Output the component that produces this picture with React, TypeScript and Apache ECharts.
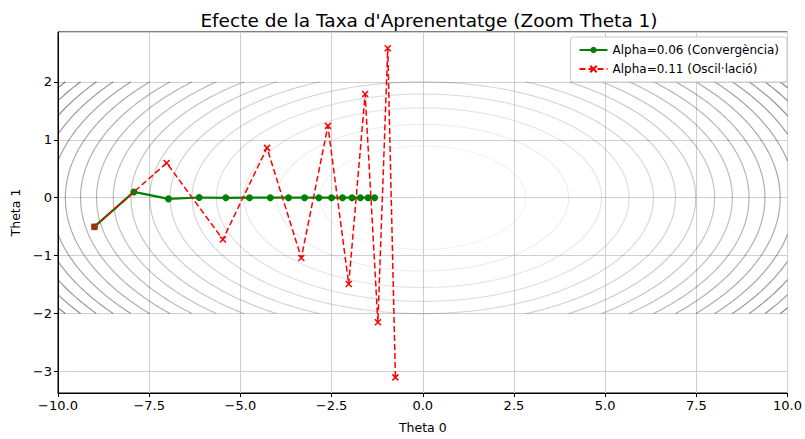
import React, { useEffect, useRef } from "react";
import * as echarts from "echarts";

const title = "Efecte de la Taxa d'Aprenentatge (Zoom Theta 1)";
const contourLevels = [8, 16, 24, 32, 40, 48, 56, 64, 72, 80, 88, 96, 104, 112, 120, 128, 136];
const greenName = "Alpha=0.06 (Convergència)";
const redName = "Alpha=0.11 (Oscil·lació)";
const greenTheta0 = [-9, -7.92, -6.97, -6.13, -5.4, -4.75, -4.18, -3.68, -3.24, -2.85, -2.5, -2.2, -1.94, -1.71, -1.5, -1.32];
const greenTheta1 = [-0.5, 0.1, -0.02, 0.004, -0.001, 0, 0, 0, 0, 0, 0, 0, 0, 0, 0, 0];
const redTheta0 = [-9, -7.02, -5.48, -4.27, -3.33, -2.6, -2.03, -1.58, -1.23, -0.96, -0.75];
const redTheta1 = [-0.5, 0.6, -0.72, 0.86, -1.04, 1.24, -1.49, 1.79, -2.15, 2.58, -3.1];

const FONT = "'DejaVu Sans', sans-serif";
const minus = (s: string) => s.replace("-", "\u2212");

function ellipsePoint(L: number, t: number): [number, number] {
  return [Math.sqrt(L) * Math.cos(t), Math.sqrt(L / 10) * Math.sin(t)];
}
function inside(p: [number, number]) {
  return Math.abs(p[0]) <= 10 && Math.abs(p[1]) <= 2;
}
function contourSegments(L: number): [number, number][][] {
  const N = 900;
  const t0 = Math.PI / 2;
  const segs: [number, number][][] = [];
  let cur: [number, number][] = [];
  let prevT = t0;
  let prevIn = inside(ellipsePoint(L, t0));
  if (prevIn) cur.push(ellipsePoint(L, t0));
  for (let i = 1; i <= N; i++) {
    const t = t0 + (2 * Math.PI * i) / N;
    const p = ellipsePoint(L, t);
    const pin = inside(p);
    if (pin !== prevIn) {
      let a = prevT, b = t;
      for (let k = 0; k < 30; k++) {
        const m = (a + b) / 2;
        if (inside(ellipsePoint(L, m)) === prevIn) a = m; else b = m;
      }
      const bp = ellipsePoint(L, (a + b) / 2);
      if (prevIn) {
        cur.push(bp);
        segs.push(cur);
        cur = [];
      } else {
        cur = [bp];
      }
    }
    if (pin) cur.push(p);
    prevIn = pin;
    prevT = t;
  }
  if (cur.length > 1) segs.push(cur);
  return segs;
}

export default function App() {
  const ref = useRef<HTMLDivElement>(null);
  useEffect(() => {
    if (!ref.current) return;
    const chart = echarts.init(ref.current, null, { renderer: "svg" });
    const lmin = contourLevels[0];
    const lmax = contourLevels[contourLevels.length - 1];
    const contourSeries: any[] = [];
    contourLevels.forEach((L) => {
      const a = 0.05 + 0.42 * (L - lmin) / (lmax - lmin);
      contourSegments(L).forEach((seg) => {
        contourSeries.push({
          type: "line",
          data: seg,
          showSymbol: false,
          symbol: "none",
          silent: true,
          z: 1,
          lineStyle: { color: `rgba(0,0,0,${a.toFixed(3)})`, width: 1.2 },
        });
      });
    });
    const xMark = "path://M0,0L10,10M10,0L0,10";
    chart.setOption({
      animation: false,
      backgroundColor: "#ffffff",
      title: {
        text: title,
        left: 424,
        textAlign: "center",
        top: 6,
        textStyle: { fontFamily: FONT, fontSize: 18.5, fontWeight: "normal", color: "#000" },
      },
      legend: {
        data: [greenName, redName],
        orient: "vertical",
        right: 18,
        top: 37,
        padding: [7, 8, 7, 8],
        itemGap: 7,
        itemWidth: 28,
        itemHeight: 8,
        backgroundColor: "rgba(255,255,255,0.85)",
        borderColor: "#cccccc",
        borderWidth: 1,
        borderRadius: 3,
        textStyle: { fontFamily: FONT, fontSize: 12, color: "#000" },
      },
      grid: {
        left: 58,
        right: 15,
        top: 32,
        bottom: 46,
        show: true,
        borderColor: "#000",
        borderWidth: 1,
        backgroundColor: "#fff",
      },
      xAxis: {
        type: "value",
        min: -10,
        max: 10,
        interval: 2.5,
        name: "Theta 0",
        nameLocation: "middle",
        nameGap: 28,
        nameTextStyle: { fontFamily: FONT, fontSize: 12.5, color: "#000" },
        axisLine: { show: true, onZero: false, lineStyle: { color: "#000" } },
        axisTick: { show: true, length: 4, lineStyle: { color: "#000" } },
        axisLabel: {
          fontFamily: FONT,
          fontSize: 13,
          color: "#000",
          margin: 6,
          formatter: (v: number) => minus(v.toFixed(1)),
        },
        splitLine: { show: true, lineStyle: { color: "#cfcfcf", width: 1 } },
      },
      yAxis: {
        type: "value",
        min: -3.37,
        max: 2.86,
        splitNumber: 6,
        minInterval: 1,
        maxInterval: 1,
        name: "Theta 1",
        nameLocation: "middle",
        nameGap: 35,
        nameTextStyle: { fontFamily: FONT, fontSize: 12.5, color: "#000" },
        axisLine: { show: true, onZero: false, lineStyle: { color: "#000" } },
        axisTick: { show: true, length: 4, lineStyle: { color: "#000" } },
        axisLabel: {
          fontFamily: FONT,
          fontSize: 13,
          color: "#000",
          margin: 6,
          showMinLabel: false,
          showMaxLabel: false,
          formatter: (v: number) => (Number.isInteger(v) ? minus(String(v)) : ""),
        },
        splitLine: { show: true, lineStyle: { color: "#cfcfcf", width: 1 } },
      },
      series: [
        ...contourSeries,
        {
          name: greenName,
          type: "line",
          data: greenTheta0.map((x, i) => [x, greenTheta1[i]]),
          symbol: "circle",
          symbolSize: 7,
          showSymbol: true,
          z: 3,
          lineStyle: { color: "#008000", width: 2.2 },
          itemStyle: { color: "#008000" },
        },
        {
          name: redName,
          type: "line",
          data: redTheta0.map((x, i) => [x, redTheta1[i]]),
          symbol: xMark,
          symbolSize: 6,
          showSymbol: true,
          z: 4,
          lineStyle: { color: "#ff0000", width: 1.5, type: [6, 3] },
          itemStyle: { color: "rgba(0,0,0,0)", borderColor: "#ff0000", borderWidth: 1.5 },
        },
      ],
    });
    return () => chart.dispose();
  }, []);
  return <div ref={ref} style={{ position: "absolute", left: 0, top: 0, width: 805, height: 439 }} />;
}
